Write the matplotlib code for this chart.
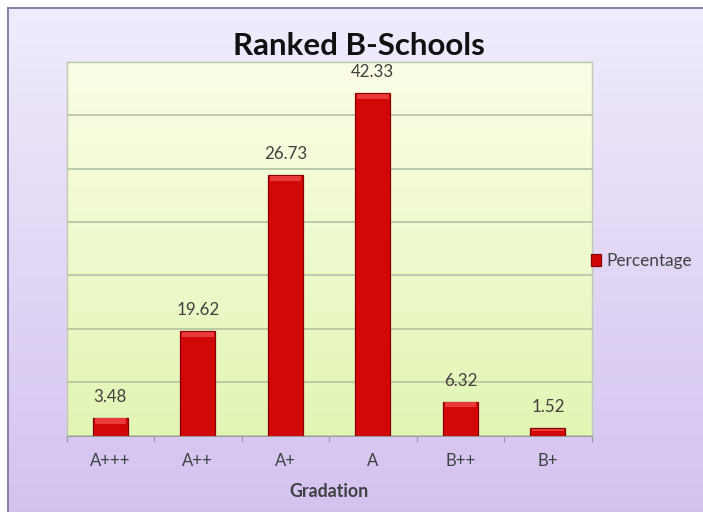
import numpy as np
import matplotlib
matplotlib.use("Agg")
import matplotlib.pyplot as plt
from matplotlib.colors import LinearSegmentedColormap

categories = ["A+++", "A++", "A+", "A", "B++", "B+"]
bar_heights = [3.4, 19.6, 48.8, 64.1, 6.4, 1.4]
value_labels = ["3.48", "19.62", "26.73", "42.33", "6.32", "1.52"]
series_name = "Percentage"
title = "Ranked B-Schools"
xlabel = "Gradation"

W, H = 703, 512
fig = plt.figure(figsize=(W / 100, H / 100), dpi=100)
fig.patch.set_facecolor("white")

FONT = ["Lato", "DejaVu Sans"]

# outer frame with lavender gradient (extends past right/bottom edges)
bg = fig.add_axes([8 / W, -0.02, 1.0, 1 - 8 / H + 0.02])
bg_cmap = LinearSegmentedColormap.from_list("bg", ["#f0ecfc", "#d3c2ef"])
grad = np.linspace(0, 1, 256).reshape(-1, 1)
bg.imshow(grad, aspect="auto", cmap=bg_cmap, extent=(0, 1, 1, 0))
bg.set_xticks([]); bg.set_yticks([])
for s in bg.spines.values():
    s.set_color("#8a7fa8"); s.set_linewidth(1.4)
bg.set_zorder(0)

# plot area
left, right = 66.5 / W, 591.7 / W
bottom, top = (H - 435.7) / H, (H - 61.7) / H
ax = fig.add_axes([left, bottom, right - left, top - bottom])
ax.set_zorder(1)
x = np.arange(len(categories))
ax.set_xlim(-0.5, len(categories) - 0.5)
ax.set_ylim(0, 70)
pa_cmap = LinearSegmentedColormap.from_list("pa", ["#fbfee6", "#e2f5b4"])
ax.imshow(grad, aspect="auto", cmap=pa_cmap, extent=(-0.5, len(categories) - 0.5, 0, 70),
          origin="upper", zorder=0)
ax.set_yticks(np.arange(0, 71, 10))
ax.yaxis.grid(True, color="#b4c2a2", linewidth=1.2, zorder=1)
ax.set_axisbelow(False)
ax.tick_params(axis="y", left=False, labelleft=False)

bars = ax.bar(x, bar_heights, width=0.4, color="#d20808", edgecolor="#8a0000",
              linewidth=0.9, zorder=3, label=series_name)
# bevel highlight on top of each bar
for b in bars:
    bh = min(b.get_height() * 0.35, 1.0)
    ax.bar(b.get_x() + b.get_width() / 2, bh, width=b.get_width() * 0.9,
           bottom=b.get_height() - bh - 0.12, color="#e93a3a", linewidth=0, zorder=4)

for xi, h, lab in zip(x, bar_heights, value_labels):
    ax.text(xi, h + 2.4, lab, ha="center", va="bottom", fontsize=12.2,
            color="#404040", family=FONT, zorder=5)

ax.set_xticks(np.arange(-0.5, len(categories), 1), minor=False)
ax.set_xticklabels([])
ax.tick_params(axis="x", direction="out", length=4, color="#9a9a9a")
ax.set_xticks(x, minor=True)
ax.set_xticklabels(categories, minor=True, fontsize=12, color="#404040", family=FONT)
ax.tick_params(axis="x", which="minor", length=0, pad=12.5)

for side in ["top", "right", "left"]:
    ax.spines[side].set_color("#c2c9b0")
    ax.spines[side].set_linewidth(1.0)
ax.spines["bottom"].set_color("#9a9a9a")

fig.text(359 / W, 1 - 55 / H, title, ha="center", va="baseline", fontsize=22.5,
         fontweight="bold", color="#111111", family=FONT)
fig.text(329 / W, 1 - 497 / H, xlabel, ha="center", va="baseline", fontsize=12.8,
         fontweight="bold", color="#404040", family=FONT)

ax.legend(handles=[bars], labels=[series_name], loc="center left",
          bbox_to_anchor=(575 / W, 1 - 261 / H), bbox_transform=fig.transFigure,
          frameon=False, handlelength=0.62, handleheight=0.62, handletextpad=0.3,
          prop={"family": FONT, "size": 12.4}, labelcolor="#404040")

fig.savefig("out.png", dpi=100)
